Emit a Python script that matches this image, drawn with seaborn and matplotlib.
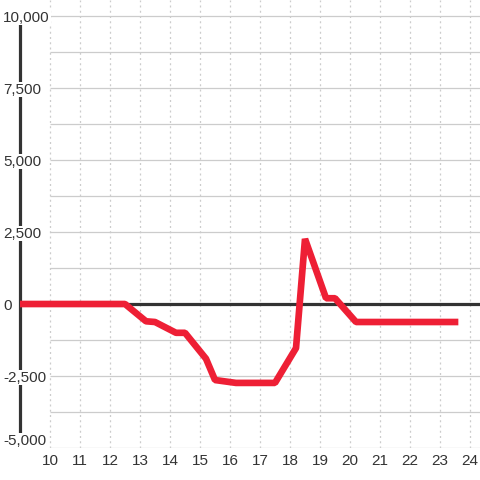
import numpy as np
import pandas as pd
import matplotlib
matplotlib.use("Agg")
import matplotlib.pyplot as plt
import seaborn as sns

# Data
hours = [9.0, 12.5, 13.2, 13.5, 14.2, 14.5, 15.2, 15.5, 16.2, 17.5, 18.2, 18.5, 19.2, 19.5, 20.2, 23.5]
values = [0, 0, -600, -625, -1000, -1000, -1900, -2640, -2740, -2740, -1530, 2260, 200, 200, -625, -625]

y_ticks = [-5000, -2500, 0, 2500, 5000, 7500, 10000]
y_tick_labels = ["-5,000", "-2,500", "0", "2,500", "5,000", "7,500", "10,000"]
y_grid = [-5000, -3750, -2500, -1250, 1250, 2500, 3750, 5000, 6250, 7500, 8750, 10000]
x_ticks = list(range(10, 25))

df = pd.DataFrame({"hour": hours, "value": values})

sns.set_style("white")
plt.rcParams["font.family"] = ["Liberation Sans", "DejaVu Sans"]
plt.rcParams["axes.unicode_minus"] = False

fig = plt.figure(figsize=(4.8, 4.8), dpi=100)
ax = fig.add_axes([20 / 480, 32 / 480, 460 / 480, 448 / 480])

x_min, x_max = 9, 24.333
y_min, y_max = -5000, 10556

# light grid
ax.hlines(y_grid, 10, x_max, color="#cccccc", lw=0.9, zorder=0.3)
ax.vlines(x_ticks, y_min, y_max, color="#cccccc", lw=0.9,
          linestyles=(0, (1.6, 2.6)), zorder=0.3)

# zero line and left axis line
ax.axhline(0, color="#333333", lw=2.3, zorder=1)
ax.vlines(x_min, -5000, 10000, color="#333333", lw=2.3, zorder=0.4, clip_on=False)

sns.lineplot(data=df, x="hour", y="value", color="#ee1f35", lw=4.8,
             estimator=None, sort=False, ax=ax, zorder=3,
             solid_capstyle="projecting", solid_joinstyle="bevel")

ax.set_xlim(x_min, x_max)
ax.set_ylim(y_min, y_max)
for s in ax.spines.values():
    s.set_visible(False)
ax.set_axisbelow(True)

ax.set_xticks(x_ticks)
ax.set_xticklabels([str(t) for t in x_ticks])
ax.set_yticks(y_ticks)
ax.set_yticklabels(y_tick_labels)
ax.tick_params(axis="x", length=0, pad=4, labelsize=11, labelcolor="#333333")
ax.tick_params(axis="y", length=0, pad=12, labelsize=11, labelcolor="#333333")
for t in ax.yaxis.get_major_ticks():
    t.label1.set_horizontalalignment("left")
    t.label1.set_bbox(dict(facecolor="white", edgecolor="none", pad=0.5))
ax.yaxis.get_major_ticks()[0].label1.set_verticalalignment("bottom")

ax.set_xlabel("")
ax.set_ylabel("")

fig.savefig("out.png", dpi=100, facecolor="white")
